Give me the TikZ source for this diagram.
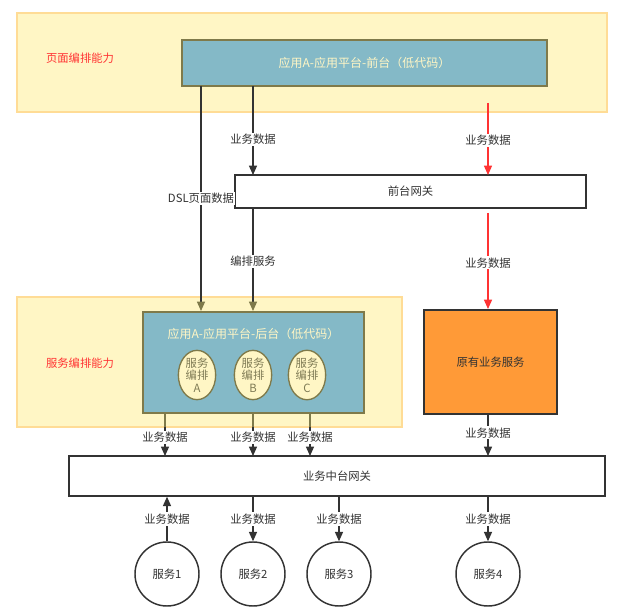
\documentclass[tikz,border=0pt]{standalone}
\usepackage{fontspec}
\setmainfont{Noto Sans CJK SC}
\usetikzlibrary{arrows.meta}
\definecolor{band}{HTML}{FFF6C5}
\definecolor{bandb}{HTML}{FFDC96}
\definecolor{app}{HTML}{84B9C7}
\definecolor{olive}{HTML}{7F7A4A}
\definecolor{org}{HTML}{FF9A37}
\definecolor{redc}{HTML}{FF3333}
\definecolor{dk}{HTML}{333333}
\tikzset{x=0.75pt,y=-0.75pt,
 every node/.style={font=\fontsize{8.5}{9.5}\selectfont, text=dk},
 band/.style={fill=band,draw=bandb,line width=0.8pt},
 app/.style={fill=app,draw=olive,line width=1.2pt},
 box/.style={draw=dk,fill=white,line width=1.1pt},
 circ/.style={ellipse,draw=olive,fill=band,line width=1pt,minimum width=28pt,minimum height=33pt,inner sep=0pt,align=center,text=olive!80!gray},
 svc/.style={circle,draw=dk,fill=white,line width=1.1pt,minimum size=48pt,inner sep=0pt},
 ar/.style={draw=dk,line width=1pt,-{Triangle[length=7pt,width=6pt]}},
 oar/.style={draw=dk,line width=1pt,-{Triangle[length=7pt,width=6pt,fill=olive,color=olive]}},
 rar/.style={draw=redc,line width=1pt,-{Triangle[length=7pt,width=6pt]}},
 lbl/.style={fill=white,inner sep=1pt},
 red/.style={text=redc},
}
\usetikzlibrary{shapes.geometric}
\begin{document}
\begin{tikzpicture}
\path[use as bounding box] (0,0) rectangle (618,616);
\fill[white] (0,0) rectangle (618,616);
% bands
\path[band] (17,13) rectangle (607,112);
\node[red] (l1) at (80,58) {页面编排能力};
\path[band] (17,297) rectangle (402,427);
\node[red] (l2) at (80,363) {服务编排能力};
% top app
\node[app,minimum width=274pt,minimum height=34.5pt,inner sep=0pt] (fa) at (364.5,63) {};
\node[text=band,font=\fontsize{9}{10}\selectfont] at (fa) {应用A-应用平台-前台（低代码）};
% front gateway
\node[box,minimum width=263pt,minimum height=25pt,inner sep=0pt] (fg) at (410.5,191.5) {前台网关};
% backend
\node[app,minimum width=166pt,minimum height=76pt,inner sep=0pt] (ba) at (253.5,362.5) {};
\node[text=band,font=\fontsize{9}{10}\selectfont] (bt) at (253.5,334) {应用A-应用平台-后台（低代码）};
\node[circ] (ca) at (197,375) {服务\\编排\\A};
\node[circ] (cb) at (253,375) {服务\\编排\\B};
\node[circ] (cc) at (307,375) {服务\\编排\\C};
% orange
\node[draw=dk,fill=org,line width=1.2pt,minimum width=100pt,minimum height=78pt,inner sep=0pt] (ob) at (490.5,362) {原有业务服务};
% middle gateway
\node[box,minimum width=402pt,minimum height=30pt,inner sep=0pt] (mg) at (337,476) {业务中台网关};
% services
\node[svc] (s1) at (167,574) {服务1};
\node[svc] (s2) at (253,574) {服务2};
\node[svc] (s3) at (339,574) {服务3};
\node[svc] (s4) at (488,574) {服务4};
% coordinates
\coordinate (t1) at (201,86); \coordinate (b1) at (201,311);
\coordinate (t2) at (253,86); \coordinate (g2) at (253,175);
\coordinate (g2b) at (253,208); \coordinate (b2) at (253,311);
\coordinate (r1) at (488,103); \coordinate (r2) at (488,175);
\coordinate (r3) at (488,213); \coordinate (r4) at (488,309);
% connectors
\draw[oar] (t1) -- node[lbl,pos=0.5] {DSL页面数据} (b1);
\draw[ar] (t2) -- node[lbl,pos=0.6] {业务数据} (g2);
\draw[oar] (g2b) -- node[lbl,pos=0.52] {编排服务} (b2);
\draw[rar] (r1) -- node[lbl,pos=0.52] {业务数据} (r2);
\draw[rar] (r3) -- node[lbl,pos=0.52] {业务数据} (r4);
\foreach \x in {165,253,310}{
 \draw[olive,line width=1pt] (\x,413) -- (\x,427);
 \draw[ar] (\x,427) -- node[lbl,pos=0.35] {业务数据} (\x,456);
}
\draw[ar] (488,414) -- node[lbl,pos=0.45] {业务数据} (488,456);
\draw[ar] (s1) -- node[lbl] {业务数据} (mg.south -| s1);
\draw[ar] (mg.south -| s2) -- node[lbl] {业务数据} (s2);
\draw[ar] (mg.south -| s3) -- node[lbl] {业务数据} (s3);
\draw[ar] (mg.south -| s4) -- node[lbl] {业务数据} (s4);
\end{tikzpicture}
\end{document}
